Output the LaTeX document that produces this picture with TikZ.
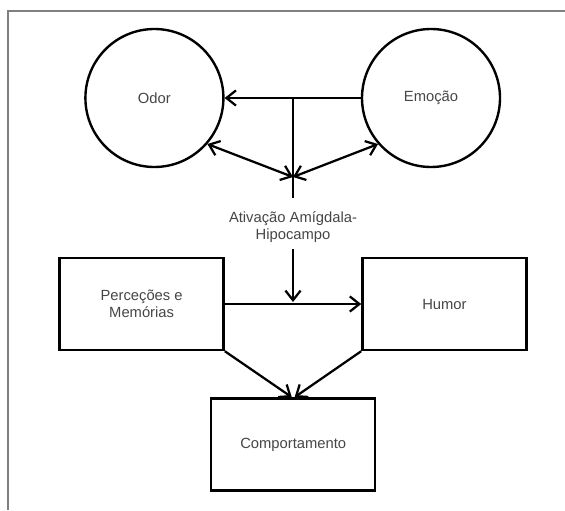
\documentclass[tikz,border=0pt]{standalone}
\usepackage{fontspec}
\setmainfont{Liberation Sans}
\definecolor{txtgray}{RGB}{70,70,70}
\definecolor{framegray}{RGB}{128,128,128}
\usetikzlibrary{arrows.meta,positioning,shapes.geometric,calc}

\tikzset{
  circ/.style={draw, circle, line width=1.7pt, minimum size=3.45cm, font=\fontsize{10.5}{12}\selectfont, text=txtgray},
  box/.style={draw, rectangle, line width=1.7pt, minimum width=4.1cm, minimum height=2.3cm, align=center, font=\fontsize{10.5}{12}\selectfont, text=txtgray},
  lnk/.style={line width=1.6pt},
  arr/.style={line width=1.6pt, -{Straight Barb[length=2.4mm,width=3.8mm]}},
  darr/.style={line width=1.6pt, {Straight Barb[length=2.4mm,width=3.8mm]}-{Straight Barb[length=2.4mm,width=3.8mm]}}
}

\begin{document}
\begin{tikzpicture}
  \useasboundingbox (0,0) rectangle (14.125,12.75);
  \fill[white] (0,0) rectangle (14.125,12.75);

  % Frame (left and top)
  \draw[framegray, line width=1.2pt] (0.2,0) -- (0.2,12.475) -- (14.125,12.475);

  % Circles
  \node[circ] (odor) at (3.86,10.3) {Odor};
  \node[circ] (emo) at (10.775,10.3) {Emoção};

  % Amygdala activation
  \coordinate (junc) at (7.325,10.3);
  \coordinate (meet) at (7.325,8.325);
  \coordinate (stem) at (7.325,7.8);
  \node[font=\fontsize{10.5}{12}\selectfont, text=txtgray, align=center] (amig) at (7.325,7.075) {Ativação Amígdala-\\Hipocampo};
  \coordinate (drop) at (7.325,5.2);

  \draw[arr] (emo.west) -- (odor.east);
  \draw[lnk] (junc) -- (stem);
  \draw[darr] (odor.-41) -- (meet);
  \draw[darr] (emo.221) -- (meet);

  % Boxes
  \node[box] (perc) at (3.54,5.15) {Perceções e\\Memórias};
  \node[box] (humor) at (11.11,5.15) {Humor};
  \node[box] (comp) at (7.33,1.64) {Comportamento};

  \draw[arr] (amig.south) ++(0,-0.05) -- (drop);
  \draw[arr] (perc.east) -- (humor.west);
  \draw[arr] (perc.south east) -- ([xshift=-1pt]comp.north);
  \draw[arr] (humor.south west) -- ([xshift=1pt]comp.north);
\end{tikzpicture}
\end{document}
